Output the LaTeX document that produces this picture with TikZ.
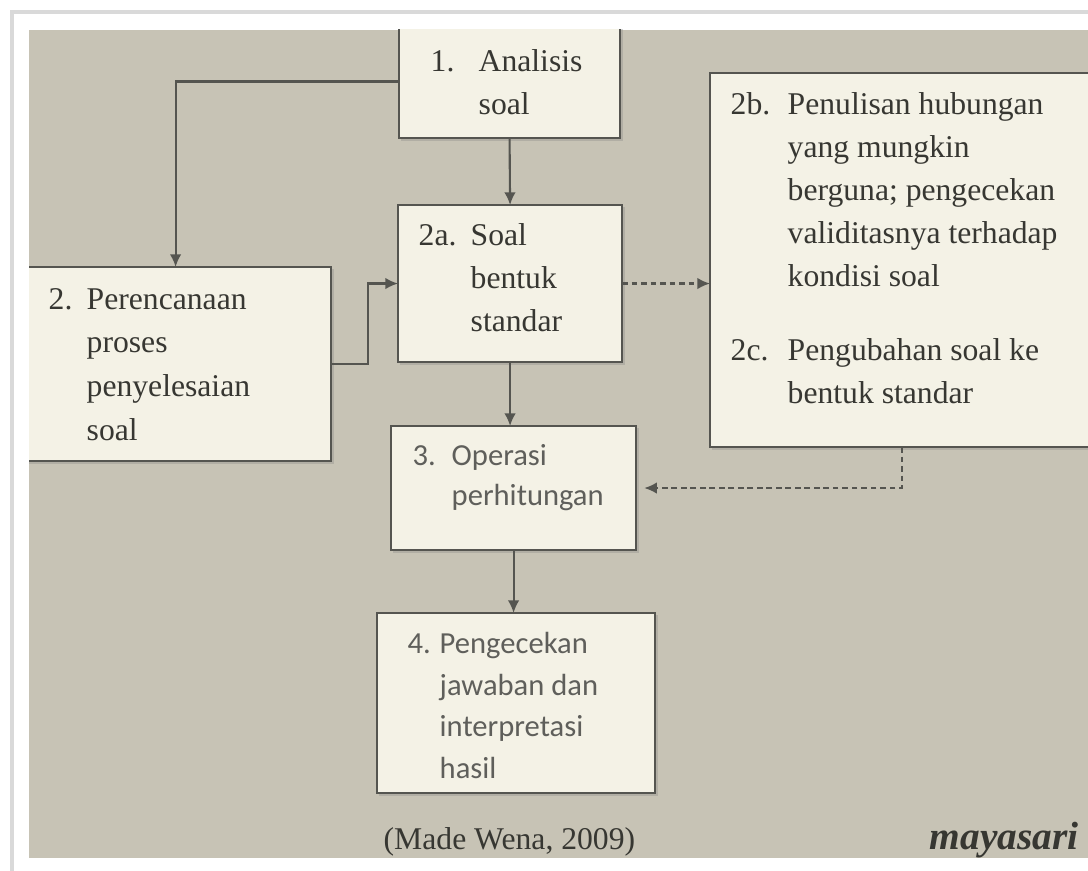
\documentclass[tikz,border=0pt]{standalone}
\usepackage{fontspec}
\setmainfont{Liberation Serif}
\newfontfamily\carlito{Carlito}
\usetikzlibrary{arrows.meta,shadows}

\definecolor{latar}{RGB}{199,195,181}
\definecolor{isian}{RGB}{244,242,230}
\definecolor{garis}{RGB}{85,85,80}
\definecolor{tinta}{RGB}{55,55,50}

\tikzset{
    kotak/.style={draw=garis, fill=isian, line width=0.6pt, inner sep=0pt, outer sep=0pt,
        anchor=north west, drop shadow={shadow xshift=0.7pt, shadow yshift=-0.7pt, opacity=0.3}},
    serif/.style={anchor=north west, inner sep=0pt, align=left, text=tinta,
        font=\rmfamily\fontsize{9}{12.2}\selectfont},
    sans/.style={anchor=north west, inner sep=0pt, align=left, text=tinta!80,
        font=\carlito\fontsize{8.7}{11.6}\selectfont},
    panah/.style={draw=garis, line width=0.6pt, -{Latex[length=3.6pt,width=3.3pt]}},
    putus/.style={panah, dash pattern=on 1.6pt off 1.1pt},
}

\begin{document}
\begin{tikzpicture}[x=0.01cm, y=-0.01cm]
    \useasboundingbox (0,0) rectangle (1088,871);
    \fill[white] (0,0) rectangle (1088,871);
    \draw[black!15, line width=1.2pt] (12,871) -- (12,12) -- (1088,12);
    \fill[latar] (29,30) rectangle (1088,858);

    \begin{scope}
    \clip (29,30) rectangle (1088,858);

    % kotak
    \node[kotak, minimum width=2.21cm, minimum height=1.13cm] (b1) at (399,25) {};
    \node[kotak, minimum width=3.11cm, minimum height=1.94cm] (b2) at (20,267) {};
    \node[kotak, minimum width=2.24cm, minimum height=1.57cm] (b2a) at (398,205) {};
    \node[kotak, minimum width=3.84cm, minimum height=3.74cm] (b2b) at (710,73) {};
    \node[kotak, minimum width=2.45cm, minimum height=1.24cm] (b3) at (391,426) {};
    \node[kotak, minimum width=2.78cm, minimum height=1.80cm] (b4) at (377,613) {};

    % panah
    \draw[panah] (b1.west) -| (b2.north);
    \draw[panah] (b1.south) -- (b2a.north);
    \draw[panah] (b2.east) -- ++(37,0) |- (b2a.west);
    \draw[putus] (b2a.east) -- (b2a.east -| b2b.west);
    \draw[putus, shorten >=2.3pt] (b2b.south) |- (b3.east);
    \draw[panah] (b2a.south) -- (b2a.south |- b3.north);
    \draw[panah] (b3.south) -- (b3.south |- b4.north);

    % teks (titik = atas strut baris pertama)
    \node[serif] (n1) at (430,41) {\strut 1.};
    \node[serif] (t1) at (478,41) {\strut Analisis\\soal};

    \node[serif, font=\rmfamily\fontsize{9}{12.4}\selectfont] (n2) at (48,278) {\strut 2.};
    \node[serif, font=\rmfamily\fontsize{9}{12.4}\selectfont] (t2) at (86,278)
        {\strut Perencanaan\\proses\\penyelesaian\\soal};

    \node[serif] (n2a) at (418,215) {\strut 2a.};
    \node[serif] (t2a) at (470,215) {\strut Soal\\bentuk\\standar};

    \node[serif] (n2b) at (730,84) {\strut 2b.};
    \node[serif] (t2b) at (787,84)
        {\strut Penulisan hubungan\\yang mungkin\\berguna; pengecekan\\validitasnya terhadap\\kondisi soal};
    \node[serif] (n2c) at (730,330) {\strut 2c.};
    \node[serif] (t2c) at (787,330) {\strut Pengubahan soal ke\\bentuk standar};

    \node[sans, font=\carlito\fontsize{8.7}{11.4}\selectfont] (n3) at (412,437) {\strut 3.};
    \node[sans, font=\carlito\fontsize{8.7}{11.4}\selectfont] (t3) at (451,437) {\strut Operasi\\perhitungan};

    \node[sans, font=\carlito\fontsize{8.7}{11.8}\selectfont] (n4) at (407,624) {\strut 4.};
    \node[sans, font=\carlito\fontsize{8.7}{11.8}\selectfont] (t4) at (439,624)
        {\strut Pengecekan\\jawaban dan\\interpretasi\\hasil};

    \node[serif, anchor=base west] (sumber) at (383,850) {(Made Wena, 2009)};
    \node[serif, anchor=base west, font=\rmfamily\fontsize{11.2}{12}\selectfont\bfseries\itshape] (tanda) at (929,850) {mayasari};
    \end{scope}
\end{tikzpicture}
\end{document}
